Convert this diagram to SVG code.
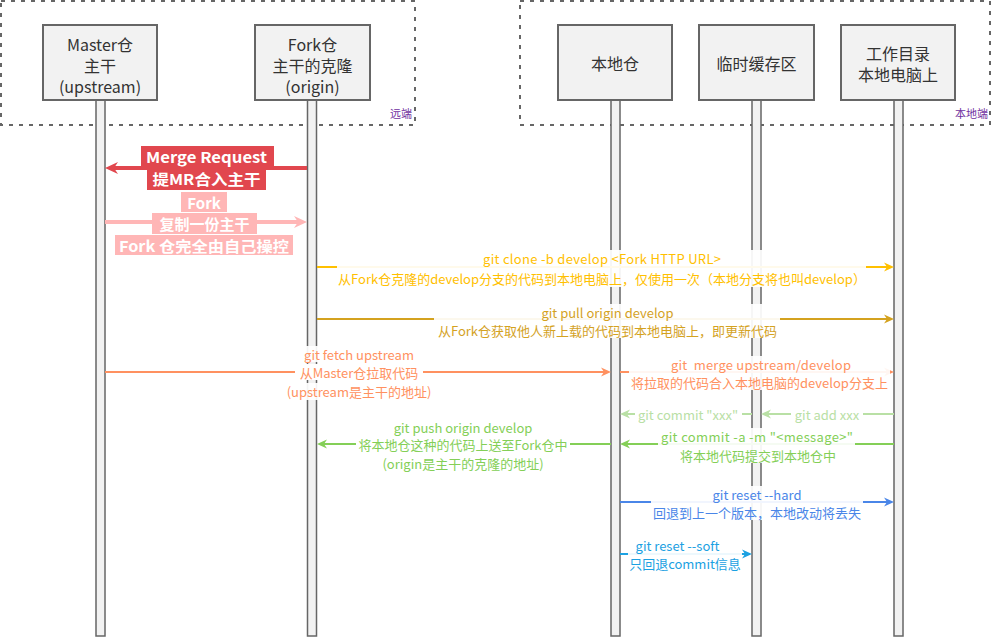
<svg xmlns="http://www.w3.org/2000/svg" width="994" height="638" viewBox="0 0 994 638">
<style>
text{font-family:"Noto Sans CJK SC","Noto Sans",sans-serif;dominant-baseline:central;text-anchor:middle}
.n{font-size:16px;fill:#333}
.l{font-size:13px}
.b{font-size:15px;font-weight:bold;fill:#fff}
.zone{fill:none;stroke:#666;stroke-width:2;stroke-dasharray:4 6}
.zl{font-size:11px;fill:#7030a0;text-anchor:end}
.box{fill:#f2f2f2;stroke:#666;stroke-width:2}
.life{fill:#f2f2f2;stroke:#666;stroke-width:1.5}
.bg{fill:#fff;fill-opacity:0.92}
.bgs{fill:#fff}
.e{fill:none;stroke-width:2}
</style>
<defs>
<marker id="aR" markerUnits="userSpaceOnUse" markerWidth="14" markerHeight="13" refX="4" refY="6.5" orient="auto"><path d="M0,0.5 L13,6.5 L0,12.5 L4,6.5 Z" fill="#e1474e"/></marker>
<marker id="aP" markerUnits="userSpaceOnUse" markerWidth="14" markerHeight="13" refX="4" refY="6.5" orient="auto"><path d="M0,0.5 L13,6.5 L0,12.5 L4,6.5 Z" fill="#ffb6b6"/></marker>
<marker id="aY" markerUnits="userSpaceOnUse" markerWidth="11" markerHeight="10" refX="3" refY="5" orient="auto"><path d="M0,0.5 L10,5 L0,9.5 L3,5 Z" fill="#ffc000"/></marker>
<marker id="aG" markerUnits="userSpaceOnUse" markerWidth="11" markerHeight="10" refX="3" refY="5" orient="auto"><path d="M0,0.5 L10,5 L0,9.5 L3,5 Z" fill="#d4a21f"/></marker>
<marker id="aO" markerUnits="userSpaceOnUse" markerWidth="11" markerHeight="10" refX="3" refY="5" orient="auto"><path d="M0,0.5 L10,5 L0,9.5 L3,5 Z" fill="#ff9160"/></marker>
<marker id="aLG" markerUnits="userSpaceOnUse" markerWidth="11" markerHeight="10" refX="3" refY="5" orient="auto"><path d="M0,0.5 L10,5 L0,9.5 L3,5 Z" fill="#b9e0a5"/></marker>
<marker id="aGr" markerUnits="userSpaceOnUse" markerWidth="11" markerHeight="10" refX="3" refY="5" orient="auto"><path d="M0,0.5 L10,5 L0,9.5 L3,5 Z" fill="#84cf57"/></marker>
<marker id="aB" markerUnits="userSpaceOnUse" markerWidth="11" markerHeight="10" refX="3" refY="5" orient="auto"><path d="M0,0.5 L10,5 L0,9.5 L3,5 Z" fill="#4a86e8"/></marker>
<marker id="aC" markerUnits="userSpaceOnUse" markerWidth="11" markerHeight="10" refX="3" refY="5" orient="auto"><path d="M0,0.5 L10,5 L0,9.5 L3,5 Z" fill="#1ba1e2"/></marker>
</defs>
<rect width="994" height="638" fill="#fff"/>

<g id="zone-remote">
<rect class="zone" x="1" y="1" width="414" height="124"/>
<text class="zl" x="412" y="113">远端</text>
</g>
<g id="zone-local">
<rect class="zone" x="520" y="1" width="470" height="124"/>
<text class="zl" x="988" y="113">本地端</text>
</g>

<g id="node-master">
<rect class="life" x="96" y="100" width="9" height="536"/>
<rect class="box" x="43" y="25" width="114" height="75"/>
<text class="n" x="100" y="43.5">Master仓</text>
<text class="n" x="100" y="64.5">主干</text>
<text class="n" x="100" y="85.5">(upstream)</text>
</g>
<g id="node-fork">
<rect class="life" x="307.5" y="100" width="9" height="536"/>
<rect class="box" x="255" y="25" width="115" height="75"/>
<text class="n" x="312.5" y="43.5">Fork仓</text>
<text class="n" x="312.5" y="64.5">主干的克隆</text>
<text class="n" x="312.5" y="85.5">(origin)</text>
</g>
<g id="node-local">
<rect class="life" x="611" y="100" width="9" height="536"/>
<rect class="box" x="558" y="25" width="114" height="75"/>
<text class="n" x="615" y="63">本地仓</text>
</g>
<g id="node-staging">
<rect class="life" x="752" y="100" width="9" height="536"/>
<rect class="box" x="699" y="25" width="115" height="75"/>
<text class="n" x="756.5" y="63">临时缓存区</text>
</g>
<g id="node-work">
<rect class="life" x="894" y="100" width="9" height="536"/>
<rect class="box" x="841" y="25" width="114" height="75"/>
<text class="n" x="898" y="53">工作目录</text>
<text class="n" x="898" y="74">本地电脑上</text>
</g>

<g id="connectors">
<!-- Merge Request -->
<line x1="307" y1="168" x2="114" y2="168" stroke="#e1474e" stroke-width="4" marker-end="url(#aR)"/>
<rect x="141" y="146" width="133" height="20" fill="#e1474e"/>
<rect x="147" y="166" width="119" height="24" fill="#e1474e"/>
<text class="b" x="206.5" y="156.5" textLength="121" lengthAdjust="spacingAndGlyphs">Merge Request</text>
<text class="b" x="206.5" y="178.5" textLength="108" lengthAdjust="spacingAndGlyphs">提MR合入主干</text>
<!-- Fork -->
<line x1="105" y1="222" x2="298" y2="222" stroke="#ffb6b6" stroke-width="4" marker-end="url(#aP)"/>
<rect x="181" y="192" width="46" height="20" fill="#ffb6b6"/>
<rect x="152" y="213" width="105" height="21" fill="#ffb6b6"/>
<rect x="115" y="235" width="178" height="20" fill="#ffb6b6"/>
<text class="b" x="204" y="202">Fork</text>
<text class="b" x="204.5" y="223">复制一份主干</text>
<text class="b" x="204" y="245" textLength="170" lengthAdjust="spacingAndGlyphs">Fork 仓完全由自己操控</text>
<!-- clone -->
<line class="e" x1="317" y1="267" x2="887" y2="267" stroke="#ffc000" marker-end="url(#aY)"/>
<rect class="bg" x="337" y="250" width="529" height="37"/>
<text class="l" x="602" y="258" fill="#ffc000" textLength="238">git clone -b develop &lt;Fork HTTP URL&gt;</text>
<text class="l" x="602" y="278" fill="#ffc000">从Fork仓克隆的develop分支的代码到本地电脑上，仅使用一次（本地分支将也叫develop）</text>
<!-- pull -->
<line class="e" x1="317" y1="319" x2="887" y2="319" stroke="#d4a21f" marker-end="url(#aG)"/>
<rect class="bg" x="434" y="304" width="346" height="34"/>
<text class="l" x="607.5" y="312" fill="#d4a21f">git pull origin develop</text>
<text class="l" x="607.5" y="330" fill="#d4a21f">从Fork仓获取他人新上载的代码到本地电脑上，即更新代码</text>
<!-- fetch -->
<line class="e" x1="105" y1="372" x2="604" y2="372" stroke="#ff9160" marker-end="url(#aO)"/>
<rect class="bg" x="300" y="346" width="118" height="16"/>
<rect class="bgs" x="295" y="364" width="128" height="16"/>
<rect class="bg" x="283" y="383" width="152" height="17"/>
<text class="l" x="359" y="354" fill="#ff9160">git fetch upstream</text>
<text class="l" x="359" y="372" fill="#ff9160">从Master仓拉取代码</text>
<text class="l" x="359" y="391" fill="#ff9160">(upstream是主干的地址)</text>
<!-- merge -->
<line class="e" x1="620" y1="372" x2="887" y2="372" stroke="#ff9160" marker-end="url(#aO)"/>
<rect class="bg" x="629" y="356" width="261" height="34"/>
<text class="l" x="761" y="364" fill="#ff9160" textLength="180">git&#160; merge upstream/develop</text>
<text class="l" x="759.5" y="382" fill="#ff9160">将拉取的代码合入本地电脑的develop分支上</text>
<!-- commit xxx -->
<line class="e" x1="752" y1="414" x2="627" y2="414" stroke="#b9e0a5" marker-end="url(#aLG)"/>
<rect class="bgs" x="635" y="406" width="107" height="16"/>
<text class="l" x="688" y="414" fill="#b9e0a5">git commit "xxx"</text>
<!-- add xxx -->
<line class="e" x1="894" y1="414" x2="768" y2="414" stroke="#b9e0a5" marker-end="url(#aLG)"/>
<rect class="bgs" x="791" y="406" width="72" height="16"/>
<text class="l" x="827" y="414" fill="#b9e0a5">git add xxx</text>
<!-- commit -a -->
<line class="e" x1="894" y1="444" x2="627" y2="444" stroke="#84cf57" marker-end="url(#aGr)"/>
<rect class="bg" x="658" y="428" width="197" height="35"/>
<text class="l" x="757" y="436" fill="#84cf57" textLength="192">git commit -a -m "&lt;message&gt;"</text>
<text class="l" x="758" y="455" fill="#84cf57">将本地代码提交到本地仓中</text>
<!-- push -->
<line class="e" x1="611" y1="444" x2="324" y2="444" stroke="#84cf57" marker-end="url(#aGr)"/>
<rect class="bgs" x="356" y="436" width="214" height="16"/>
<text class="l" x="463" y="427" fill="#84cf57">git push origin develop</text>
<text class="l" x="463" y="444" fill="#84cf57">将本地仓这种的代码上送至Fork仓中</text>
<text class="l" x="463" y="463" fill="#84cf57">(origin是主干的克隆的地址)</text>
<!-- reset hard -->
<line class="e" x1="620" y1="502" x2="887" y2="502" stroke="#4a86e8" marker-end="url(#aB)"/>
<rect class="bg" x="651" y="486" width="212" height="34"/>
<text class="l" x="757" y="494" fill="#4a86e8">git reset --hard</text>
<text class="l" x="757" y="512" fill="#4a86e8">回退到上一个版本，本地改动将丢失</text>
<!-- reset soft -->
<line class="e" x1="620" y1="554" x2="745" y2="554" stroke="#1ba1e2" marker-end="url(#aC)"/>
<rect class="bg" x="628" y="537" width="114" height="34"/>
<text class="l" x="677.5" y="545" fill="#1ba1e2">git reset --soft</text>
<text class="l" x="685" y="563" fill="#1ba1e2">只回退commit信息</text>
</g>
</svg>
